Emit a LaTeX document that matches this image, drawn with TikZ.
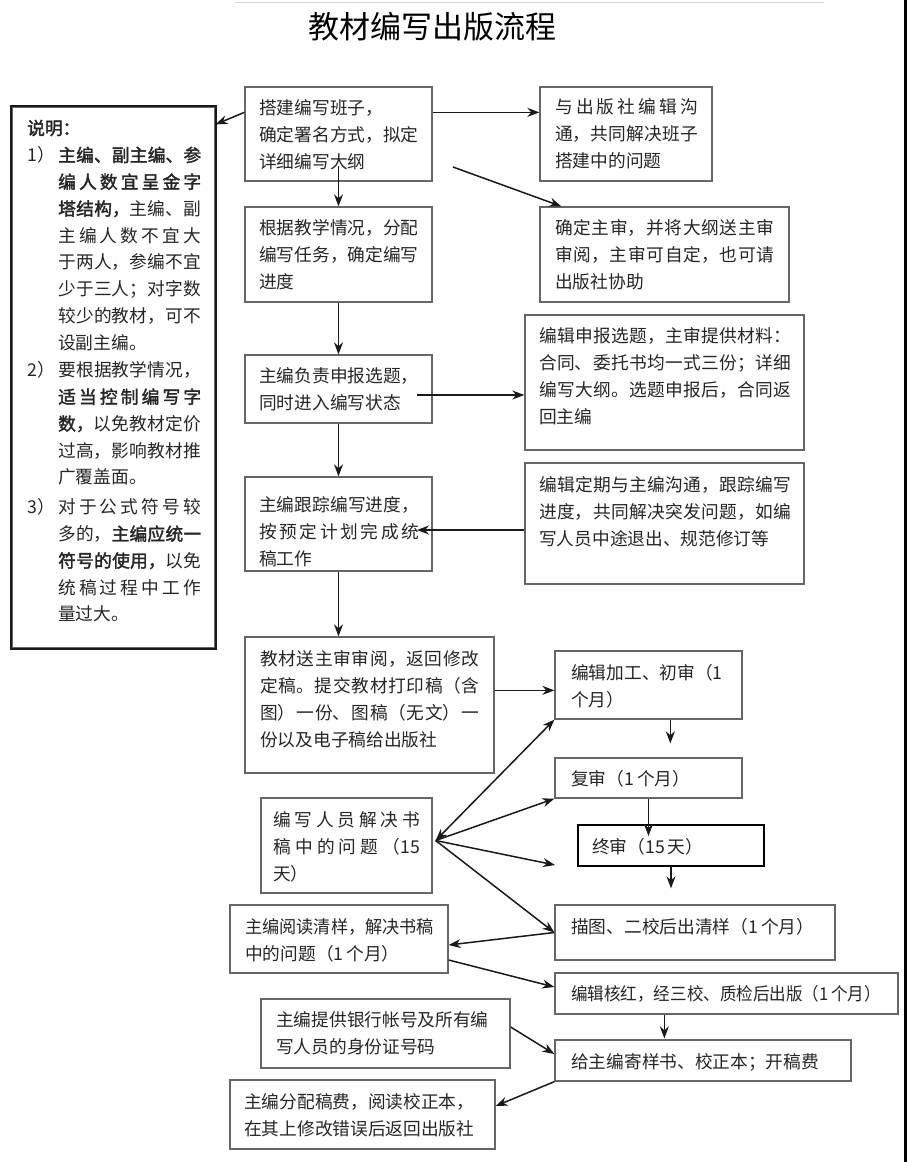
\documentclass[tikz,border=0pt]{standalone}
\usepackage{fontspec}
\setmainfont{Noto Sans CJK SC}[AutoFakeBold=2]
\usetikzlibrary{arrows.meta,fit,calc}
\XeTeXlinebreaklocale "zh"
\XeTeXlinebreakskip=0pt plus 5pt
\newcommand\fsz{\fontsize{17.7pt}{26.8pt}\selectfont}
\newcommand\mkbox[5]{\node[bx, fit={(#2,#3) (#4,#5)}] (#1) {};}
\begin{document}
\begin{tikzpicture}[x=1pt,y=-1pt,
  bx/.style={draw=black!60, line width=1.3pt, inner sep=0pt, rectangle},
  txt/.style={anchor=base west, inner sep=0pt, font=\fsz, text=black!85, align=left, text width=#1},
  jtxt/.style={anchor=base west, inner sep=0pt, font=\fsz, text=black!85, align=justify, text width=#1},
  arr/.style={-{Stealth[length=12pt,width=9pt]}, line width=1.5pt, black!90},
  darr/.style={{Stealth[length=12pt,width=9pt]}-{Stealth[length=12pt,width=9pt]}, line width=1.5pt, black!90}]
\path[use as bounding box, fill=white] (0,0) rectangle (908,1162);
\draw[black!15, line width=1pt] (235,2) -- (824,2);
\draw[black, line width=3pt] (905.5,0) -- (905.5,1162);
% title
\node[anchor=base, inner sep=0pt, font=\fontsize{31pt}{31pt}\selectfont] (title) at (432,38.8) {教材编写出版流程};
% note box
\mkbox{Note}{12}{107}{215}{648}
\draw[black!90, line width=1.8pt] (Note.north west) rectangle (Note.south east);
\node[txt=100pt] (nh) at (27,134.7) {\textbf{说明：}};
\node[txt=40pt] (n1) at (27,161.7) {1）};
\node[txt=40pt] (n2) at (27,376.7) {2）};
\node[txt=40pt] (n3) at (27,513.7) {3）};
\node[jtxt=143pt] (p1) at (58,161.7) {\textbf{主编、副主编、参}\linebreak \textbf{编人数宜呈金字}\linebreak \textbf{塔结构，}主编、副\linebreak 主编人数不宜大\linebreak 于两人，参编不宜\linebreak 少于三人；对字数\linebreak 较少的教材，可不\linebreak 设副主编。};
\node[jtxt=143pt] (p2) at (58,376.7) {要根据教学情况，\linebreak \textbf{适当控制编写字}\linebreak \textbf{数，}以免教材定价\linebreak 过高，影响教材推\linebreak 广覆盖面。};
\node[jtxt=143pt] (p3) at (58,513.7) {对于公式符号较\linebreak 多的，\textbf{主编应统一}\linebreak \textbf{符号的使用，}以免\linebreak 统稿过程中工作\linebreak 量过大。};
% main column
\mkbox{A}{245}{87}{432}{181}
\node[txt=170pt] (At) at (259,114.7) {搭建编写班子，\\确定署名方式，拟定\\详细编写大纲};
\mkbox{B}{245}{207}{432}{302}
\node[txt=170pt] (Bt) at (259,234.7) {根据教学情况，分配\\编写任务，确定编写\\进度};
\mkbox{C}{245}{355}{432}{423}
\node[txt=170pt] (Ct) at (259,382.7) {主编负责申报选题，\\同时进入编写状态};
\mkbox{D}{245}{477}{432}{571}
\node[jtxt=160pt] (Dt) at (259,511.7) {主编跟踪编写进度，\linebreak 按预定计划完成统\linebreak 稿工作};
\mkbox{E}{245}{637}{494}{773}
\node[jtxt=219pt] (Et) at (260,665.7) {教材送主审审阅，返回修改\linebreak 定稿。提交教材打印稿（含\linebreak 图）一份、图稿（无文）一\linebreak 份以及电子稿给出版社};
% right column top
\mkbox{R1}{540}{87}{712}{181}
\node[jtxt=143pt] (R1t) at (555,113.7) {与出版社编辑沟\linebreak 通，共同解决班子\linebreak 搭建中的问题};
\mkbox{R2}{540}{207}{789}{302}
\node[jtxt=219pt] (R2t) at (555,234.7) {确定主审，并将大纲送主审\linebreak 审阅，主审可自定，也可请\linebreak 出版社协助};
\mkbox{R3}{525}{315}{804}{450}
\node[jtxt=252pt] (R3t) at (539,342.7) {编辑申报选题，主审提供材料：\linebreak 合同、委托书均一式三份；详细\linebreak 编写大纲。选题申报后，合同返\linebreak 回主编};
\mkbox{R4}{525}{463}{804}{584}
\node[jtxt=252pt] (R4t) at (539,491.7) {编辑定期与主编沟通，跟踪编写\linebreak 进度，共同解决突发问题，如编\linebreak 写人员中途退出、规范修订等};
% lower part
\mkbox{F}{555}{651}{742}{719}
\node[txt=170pt] (Ft) at (571,679.7) {编辑加工、初审（1\\个月）};
\mkbox{G}{555}{758}{742}{798}
\node[txt=170pt] (Gt) at (571,785.7) {复审（1\kern3pt 个月）};
\node[draw=black, line width=2pt, inner sep=0pt, fit={(578,825) (764,866)}] (H) {};
\node[txt=170pt] (Ht) at (592,853.7) {终审（15\kern3pt 天）};
\mkbox{I}{261}{798}{432}{893}
\node[jtxt=147pt] (It) at (273,826.7) {编写人员解决书\linebreak 稿中的问题（15\linebreak 天）};
\mkbox{J}{555}{905}{835}{960}
\node[txt=270pt] (Jt) at (571,933.7) {描图、二校后出清样（1\kern3pt 个月）};
\mkbox{K}{230}{905}{448}{973}
\node[txt=210pt] (Kt) at (245,933.7) {\scalebox{0.97}[1]{主编阅读清样，解决书稿}\\中的问题（1\kern3pt 个月）};
\mkbox{L}{555}{973}{898}{1014}
\node[txt=330pt] (Lt) at (571,1000.7) {\scalebox{0.935}[1]{编辑核红，经三校、质检后出版（1\kern3pt 个月）}};
\mkbox{N}{261}{999}{510}{1068}
\node[txt=230pt] (Nt) at (276,1026.7) {主编提供银行帐号及所有编\\写人员的身份证号码};
\mkbox{M}{555}{1040}{851}{1081}
\node[txt=280pt] (Mt) at (571,1068.7) {给主编寄样书、校正本；开稿费};
\mkbox{O}{230}{1080}{495}{1149}
\node[txt=250pt] (Ot) at (244,1108.7) {主编分配稿费，阅读校正本，\\在其上修改错误后返回出版社};
% connectors
\draw[arr] ($(A.north west)+(0,26)$) -- ($(Note.north east)+(0,18)$);
\draw[arr] ($(A.north east)+(0,26)$) -- ($(R1.north west)+(0,26)$);
\coordinate (a2) at (453,167);
\draw[arr] (a2) -- ($(R2.north west)+(22,0)$);
\draw[arr] ($(A.south)+(0,-16)$) -- (B.north);
\draw[arr] (B.south) -- (C.north);
\draw[arr] (C.south) -- (D.north);
\draw[arr] (D.south) -- (D.south |- E.north);
\coordinate (c3) at (417,395);
\draw[arr] (c3) -- (c3 -| R3.west);
\coordinate (d4) at (417,530);
\draw[arr] (d4 -| R4.west) -- (d4);
\coordinate (ef) at ($(E.north east)+(0,54)$);
\draw[arr] (ef) -- (ef -| F.west);
\draw[arr] ($(F.south west)+(116,0)$) -- ($(G.north west)+(116,-14)$);
\draw[arr] (G.south) -- ($(H.north -| G.south)+(0,12)$);
\draw[arr] (H.south) -- ($(J.north -| H.south)+(0,-16)$);
\coordinate (hub) at ($(I.east)+(3,-5)$);
\coordinate (fr) at (555,865);
\draw[darr] (hub) -- (F.south west);
\draw[arr] (hub) -- (G.south west);
\draw[arr] (hub) -- (fr);
\draw[arr] (hub) -- (J.west);
\draw[arr] (J.west) -- ($(K.east)+(0,6)$);
\draw[arr] ($(K.east)+(0,21)$) -- ($(L.west)+(0,-6.5)$);
\draw[arr] ($(L.south west)+(110,0)$) -- ($(M.north west)+(110,-1)$);
\draw[arr] ($(N.east)+(0,-6.5)$) -- ($(M.west)+(0,-6.5)$);
\draw[arr] (M.south west) -- ($(O.east)+(0,-8.5)$);
\end{tikzpicture}
\end{document}
